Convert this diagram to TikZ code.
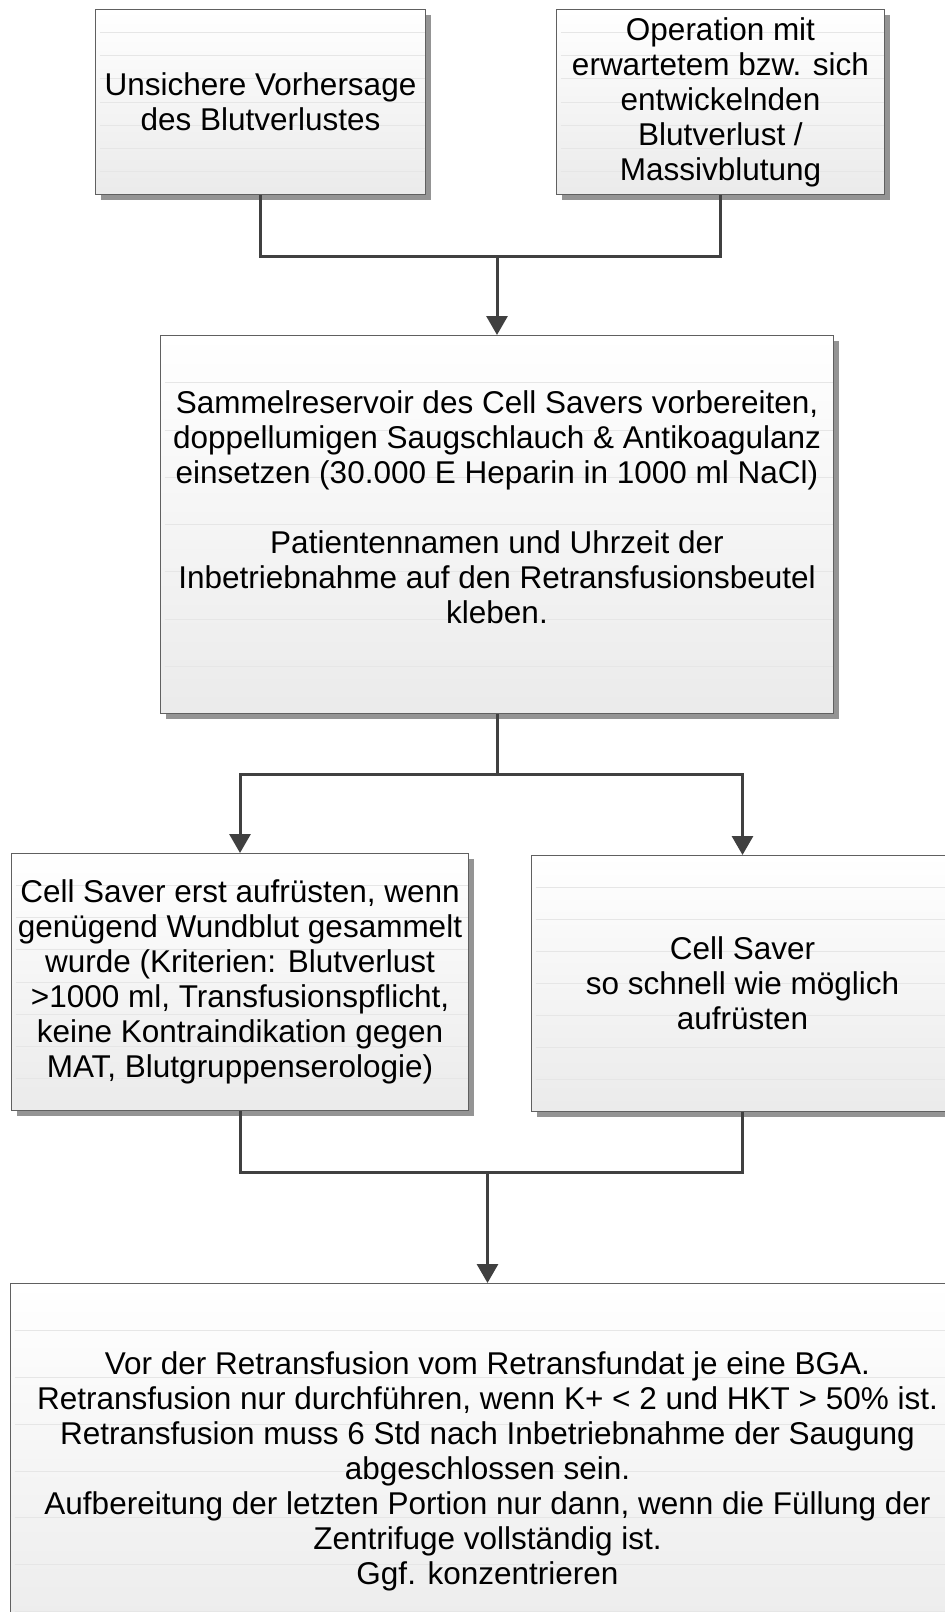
\documentclass[tikz,border=0pt]{standalone}
\usepackage{fontspec}
\setmainfont{Liberation Sans}
\usepackage{tikz}
\usetikzlibrary{arrows.meta,calc,shadows}
\definecolor{wire}{HTML}{404040}
\definecolor{frame}{HTML}{606060}
\definecolor{band}{HTML}{E6E6E6}

\begin{document}
\begin{tikzpicture}[x=1pt,y=-1pt,
    panel/.style={draw=frame,line width=1pt,anchor=north west,align=center,
                  top color=white,bottom color=black!8,inner sep=0pt,
                  font=\fontsize{31.5}{35}\selectfont,
                  drop shadow={shadow xshift=5pt,shadow yshift=-5pt,fill=black!42,opacity=1},
                  path picture={\foreach \k in {1,...,7}
                    \draw[band,line width=1pt]
                      ($(path picture bounding box.north west)!\k/8!(path picture bounding box.south west)+(4pt,0)$)
                      -- ($(path picture bounding box.north east)!\k/8!(path picture bounding box.south east)$);}},
    link/.style={wire,line width=3pt},
    flow/.style={link,-{Triangle[width=21pt,length=19pt]}}
  ]
    \useasboundingbox (0,0) rectangle (945,1612);
    \clip (0,0) rectangle (945,1612);

    \node[panel,minimum width=330pt,minimum height=185pt] (risk) at (95,9)
      {Unsichere Vorhersage\\des Blutverlustes};
    \node[panel,minimum width=328pt,minimum height=185pt] (op) at (556,9)
      {Operation mit\\erwartetem bzw. sich\\entwickelnden\\Blutverlust /\\Massivblutung};
    \node[panel,minimum width=673pt,minimum height=378pt] (prep) at (160,335)
      {Sammelreservoir des Cell Savers vorbereiten,\\doppellumigen Saugschlauch \& Antikoagulanz\\einsetzen (30.000 E Heparin in 1000 ml NaCl)\\[35pt]
       Patientennamen und Uhrzeit der\\Inbetriebnahme auf den Retransfusionsbeutel\\kleben.\\\mbox{}};
    \node[panel,minimum width=457pt,minimum height=257pt] (late) at (11,853)
      {Cell Saver erst aufrüsten, wenn\\genügend Wundblut gesammelt\\wurde (Kriterien: Blutverlust\\>1000 ml, Transfusionspflicht,\\keine Kontraindikation gegen\\MAT, Blutgruppenserologie)};
    \node[panel,minimum width=422pt,minimum height=256pt] (soon) at (531,855)
      {Cell Saver\\so schnell wie möglich\\aufrüsten};
    \node[panel,minimum width=954pt,minimum height=375pt] (bga) at (10,1283)
      {Vor der Retransfusion vom Retransfundat je eine BGA.\\Retransfusion nur durchführen, wenn K+ < 2 und HKT > 50\% ist.\\Retransfusion muss 6 Std nach Inbetriebnahme der Saugung\\abgeschlossen sein.\\Aufbereitung der letzten Portion nur dann, wenn die Füllung der\\Zentrifuge vollständig ist.\\Ggf. konzentrieren};

    % junctions
    \coordinate (j1) at ($(prep.north)+(0,-79)$);
    \coordinate (j2) at ($(prep.south)+(0,60)$);
    \coordinate (j3) at ($(bga.north)+(0,-111)$);

    \draw[link] (risk.south) |- (j1) -| (op.south);
    \draw[flow] (j1) -- (prep.north);
    \draw[link] (prep.south) -- (j2);
    \draw[flow] (j2) -| (late.north);
    \draw[flow] (j2) -| (soon.north);
    \draw[link] (late.south) |- (j3) -| (soon.south);
    \draw[flow] (j3) -- (bga.north);
  \end{tikzpicture}
\end{document}
